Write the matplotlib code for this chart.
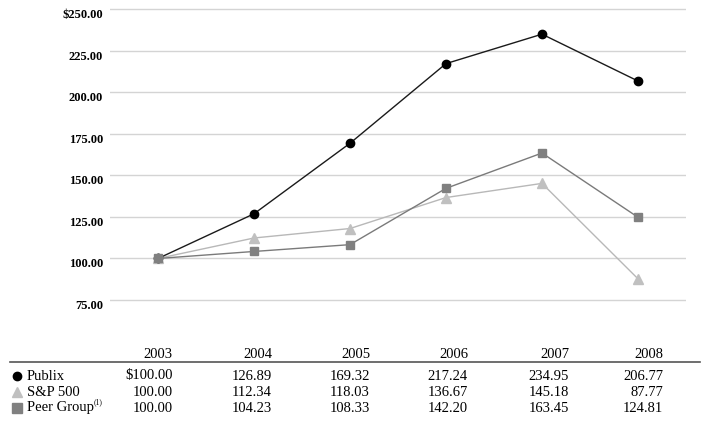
import matplotlib
matplotlib.use('Agg')
import matplotlib.pyplot as plt

years = [2003, 2004, 2005, 2006, 2007, 2008]
publix = [100.00, 126.89, 169.32, 217.24, 234.95, 206.77]
sp500 = [100.00, 112.34, 118.03, 136.67, 145.18, 87.77]
peer = [100.00, 104.23, 108.33, 142.20, 163.45, 124.81]
yticks = [75, 100, 125, 150, 175, 200, 225, 250]

plt.rcParams['font.family'] = ['Liberation Serif', 'DejaVu Serif']

W, H = 710, 423
fig = plt.figure(figsize=(W / 100, H / 100), dpi=100)

# main chart area (pixel box 110..686 x, 5..320 y)
ax = fig.add_axes([110 / W, 1 - 320 / H, 576 / W, 315 / H])
ax.set_xlim(2002.5, 2008.5)
ax.set_ylim(63, 252.5)
for t in yticks:
    ax.axhline(t, color='#d4d4d4', lw=1, zorder=0)
ax.set_yticks(yticks)
ax.set_yticklabels(['$250.00' if t == 250 else '%.2f' % t for t in yticks],
                   fontsize=9, fontweight='bold')
for lab in ax.get_yticklabels():
    lab.set_va('top')
ax.tick_params(axis='y', length=0, pad=5)
ax.set_xticks([])
for s in ax.spines.values():
    s.set_visible(False)

ax.plot(years, sp500, color='#b8b8b8', lw=1, marker='^', ms=6.5,
        mfc='#c0c0c0', mec='#c0c0c0', zorder=2)
ax.plot(years, publix, color='#1a1a1a', lw=1, marker='o', ms=6,
        mfc='black', mec='black', zorder=3)
ax.plot(years, peer, color='#7a7a7a', lw=1, marker='s', ms=6,
        mfc='#808080', mec='#808080', zorder=4)

# table underneath, drawn in pixel coordinates
tb = fig.add_axes([0, 0, 1, 1])
tb.set_xlim(0, W)
tb.set_ylim(H, 0)
tb.axis('off')

col_right = [173, 272, 370, 468, 569, 663]
fs = 10.5
for x, yr in zip(col_right, years):
    tb.text(x, 355, str(yr), ha='right', va='center', fontsize=fs)
tb.plot([10, 700], [362.5, 362.5], color='#555555', lw=1.2)

rows = [('Publix', publix, 'o', 'black', 6),
        ('S&P 500', sp500, '^', '#c0c0c0', 7),
        ('Peer Group', peer, 's', '#808080', 6.5)]
row_y = [376, 392, 408]
for (name, vals, mk, col, ms), y in zip(rows, row_y):
    tb.plot([17], [y], marker=mk, color=col, ms=ms, ls='none')
    tb.text(27, y, name, ha='left', va='center', fontsize=fs)
    for i, (x, v) in enumerate(zip(col_right, vals)):
        s = ('$%.2f' % v) if (name == 'Publix' and i == 0) else '%.2f' % v
        tb.text(x, y, s, ha='right', va='center', fontsize=fs)
tb.text(94, 402, '(1)', ha='left', va='center', fontsize=5.5)

fig.savefig('out.png', dpi=100)
